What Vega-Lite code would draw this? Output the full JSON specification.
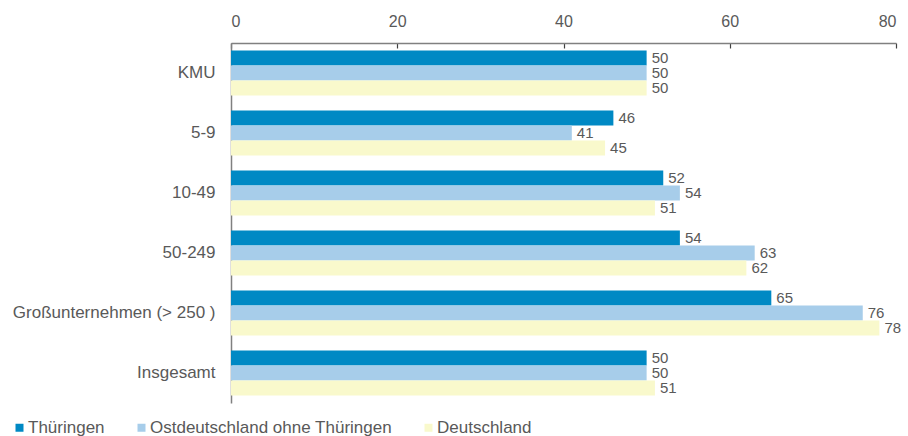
{
  "$schema": "https://vega.github.io/schema/vega-lite/v6.json",
  "width": 665,
  "height": 360,
  "autosize": "none",
  "padding": {"left": 231, "top": 43, "right": 12, "bottom": 33},
  "background": "white",
  "config": {
    "font": "Liberation Sans",
    "view": {"stroke": null},
    "axis": {"labelColor": "#595959", "labelFont": "Liberation Sans", "domainColor": "#808080", "tickColor": "#404040"}
  },
  "data": {
    "values": [
      {"cat": "KMU", "series": "Thüringen", "v": 50},
      {"cat": "KMU", "series": "Ostdeutschland ohne Thüringen", "v": 50},
      {"cat": "KMU", "series": "Deutschland", "v": 50},
      {"cat": "5-9", "series": "Thüringen", "v": 46},
      {"cat": "5-9", "series": "Ostdeutschland ohne Thüringen", "v": 41},
      {"cat": "5-9", "series": "Deutschland", "v": 45},
      {"cat": "10-49", "series": "Thüringen", "v": 52},
      {"cat": "10-49", "series": "Ostdeutschland ohne Thüringen", "v": 54},
      {"cat": "10-49", "series": "Deutschland", "v": 51},
      {"cat": "50-249", "series": "Thüringen", "v": 54},
      {"cat": "50-249", "series": "Ostdeutschland ohne Thüringen", "v": 63},
      {"cat": "50-249", "series": "Deutschland", "v": 62},
      {"cat": "Großunternehmen (> 250 )", "series": "Thüringen", "v": 65},
      {"cat": "Großunternehmen (> 250 )", "series": "Ostdeutschland ohne Thüringen", "v": 76},
      {"cat": "Großunternehmen (> 250 )", "series": "Deutschland", "v": 78},
      {"cat": "Insgesamt", "series": "Thüringen", "v": 50},
      {"cat": "Insgesamt", "series": "Ostdeutschland ohne Thüringen", "v": 50},
      {"cat": "Insgesamt", "series": "Deutschland", "v": 51}
    ]
  },
  "encoding": {
    "y": {
      "field": "cat", "type": "nominal",
      "sort": ["KMU", "5-9", "10-49", "50-249", "Großunternehmen (> 250 )", "Insgesamt"],
      "scale": {"paddingInner": 0.25, "paddingOuter": 0.125},
      "axis": {"title": null, "ticks": false, "labelFontSize": 17, "labelPadding": 16, "domainWidth": 1.5, "labelLimit": 0}
    },
    "yOffset": {
      "field": "series", "type": "nominal",
      "sort": ["Thüringen", "Ostdeutschland ohne Thüringen", "Deutschland"],
      "scale": {"paddingInner": 0, "paddingOuter": 0}
    },
    "x": {
      "field": "v", "type": "quantitative",
      "scale": {"domain": [0, 80], "nice": false},
      "axis": {"orient": "top", "title": null, "values": [0, 20, 40, 60, 80], "ticks": false, "grid": true, "gridColor": "#404040", "gridWidth": 1.2, "gridDash": [5, 2000], "labelPadding": 14, "labelFontSize": 16, "domainWidth": 1.5}
    }
  },
  "layer": [
    {
      "mark": {"type": "bar"},
      "encoding": {
        "color": {
          "field": "series", "type": "nominal",
          "sort": ["Thüringen", "Ostdeutschland ohne Thüringen", "Deutschland"],
          "scale": {"domain": ["Thüringen", "Ostdeutschland ohne Thüringen", "Deutschland"], "range": ["#0089C4", "#A7CDEA", "#F9F9CC"]},
          "legend": {
            "title": null, "orient": "none", "direction": "horizontal",
            "legendX": -220, "legendY": 376,
            "symbolType": "square", "symbolSize": 64, "symbolStrokeWidth": 0,
            "labelFontSize": 17, "labelColor": "#595959", "labelFont": "Liberation Sans", "labelLimit": 0,
            "columnPadding": 28, "labelOffset": 0
          }
        }
      }
    },
    {
      "mark": {"type": "text", "align": "left", "baseline": "middle", "dx": 5, "fontSize": 15, "color": "#595959"},
      "encoding": {"text": {"field": "v", "type": "quantitative"}}
    }
  ]
}
